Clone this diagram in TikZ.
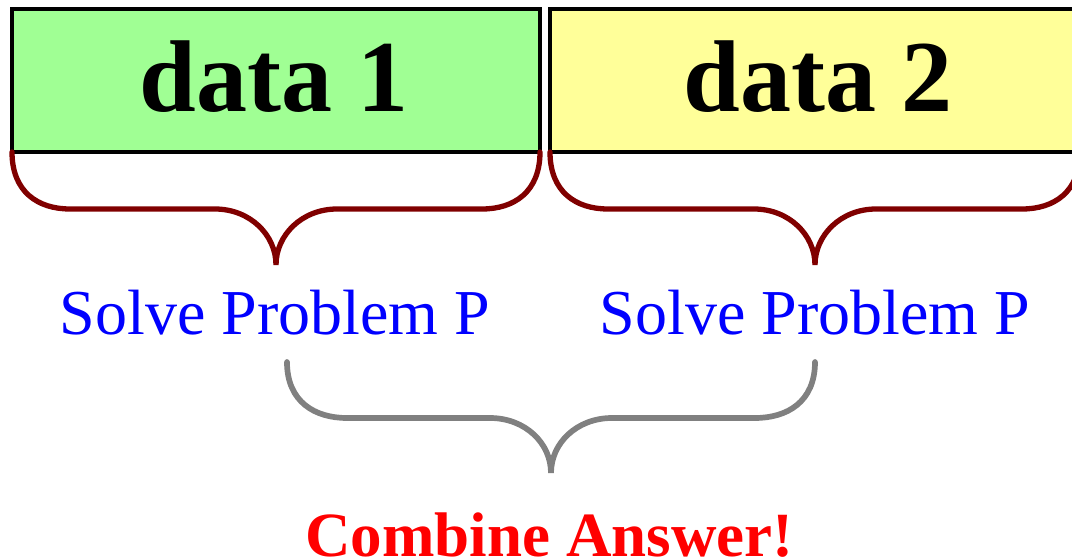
\documentclass[tikz,border=0pt]{standalone}
\usepackage{fontspec}
\setmainfont{Liberation Serif}
\usetikzlibrary{calc}
\definecolor{boxgreen}{RGB}{160,255,148}
\definecolor{boxyellow}{RGB}{255,255,153}
\definecolor{bracered}{RGB}{128,0,0}
\definecolor{bracegray}{RGB}{128,128,128}
\tikzset{
  databox/.style={draw=black, line width=4.2pt, outer sep=0pt, inner sep=0pt,
    minimum width=528pt, minimum height=143pt},
  datatext/.style={anchor=base, inner sep=0pt,
    font=\fontsize{102}{110}\selectfont\bfseries},
  solvetext/.style={text=blue, anchor=base, inner sep=0pt,
    font=\fontsize{64}{70}\selectfont},
  combinetext/.style={text=red, anchor=base, inner sep=0pt,
    font=\fontsize{63}{70}\selectfont\bfseries},
  redbrace/.style={draw=bracered, line width=5.3pt, line cap=round},
  graybrace/.style={draw=bracegray, line width=5.7pt, line cap=round},
}
\begin{document}
\begin{tikzpicture}[x=1pt,y=-1pt]
\useasboundingbox (0,0) rectangle (1072,559);
\node[databox, fill=boxgreen] (d1) at (276,80.5) {};
\node[databox, fill=boxyellow, minimum width=530pt] (d2) at (815,80.5) {};
\node[datatext] (t1) at (274,112) {data 1};
\node[datatext] (t2) at (818,112) {data 2};
\node[solvetext] (s1) at (275,334) {Solve Problem P};
\node[solvetext] (s2) at (815,334) {Solve Problem P};
\node[combinetext] (c) at (549.5,556.5) {Combine Answer!};
% red braces
\draw[redbrace] (d1.south west) .. controls +(0,40) and +(-32,0) .. ++(58,57)
  -- ($(d1.south)+(-61,57)$) .. controls +(35,0) and +(0,-30) .. ($(d1.south)+(0,113)$)
  .. controls +(0,-30) and +(-35,0) .. ($(d1.south)+(61,57)$)
  -- ($(d1.south east)+(-58,57)$) .. controls +(32,0) and +(0,40) .. (d1.south east);
\draw[redbrace] (d2.south west) .. controls +(0,40) and +(-32,0) .. ++(58,57)
  -- ($(d2.south)+(-61,57)$) .. controls +(35,0) and +(0,-30) .. ($(d2.south)+(0,113)$)
  .. controls +(0,-30) and +(-35,0) .. ($(d2.south)+(61,57)$)
  -- ($(d2.south east)+(-58,57)$) .. controls +(32,0) and +(0,40) .. (d2.south east);
% gray brace
\coordinate (g1) at (287,362);
\coordinate (g2) at (815,362);
\coordinate (gm) at (551,362);
\draw[graybrace] (g1) .. controls +(0,40) and +(-32,0) .. ++(60,56)
  -- ($(gm)+(-61,56)$) .. controls +(35,0) and +(0,-30) .. ($(gm)+(0,111)$)
  .. controls +(0,-30) and +(-35,0) .. ($(gm)+(61,56)$)
  -- ($(g2)+(-60,56)$) .. controls +(32,0) and +(0,40) .. (g2);
\end{tikzpicture}
\end{document}
